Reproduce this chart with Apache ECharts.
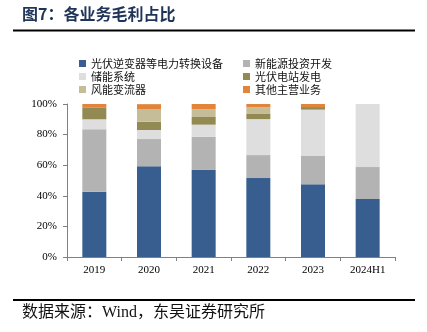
<!DOCTYPE html>
<html>
<head>
<meta charset="utf-8">
<script src="https://cdn.jsdelivr.net/npm/echarts@6/dist/echarts.min.js"></script>
<style>
  html, body { margin: 0; padding: 0; background: #fff; }
  #chart { width: 427px; height: 332px; }
</style>
</head>
<body>
<div id="chart"></div>
<script>
// Categories and gross-profit share (%) of each business line
const years = ['2019', '2020', '2021', '2022', '2023', '2024H1'];
const seriesNames = ['光伏逆变器等电力转换设备', '新能源投资开发', '储能系统', '光伏电站发电', '风能变流器', '其他主营业务'];
const converter = [42.7, 59.3, 56.9, 51.6, 47.5, 37.9];
const newEnergyDev = [40.8, 17.8, 21.6, 15.0, 18.5, 20.9];
const storage = [6.5, 5.9, 8.0, 23.5, 30.3, 41.2];
const pvStation = [7.8, 5.4, 5.0, 3.7, 1.7, 0];
const windConverter = [0, 8.0, 5.0, 4.1, 0, 0];
const other = [2.2, 3.5, 3.5, 2.1, 2.0, 0];
const yTicks = [0, 20, 40, 60, 80, 100];

const values = [converter, newEnergyDev, storage, pvStation, windConverter, other];
const colors = ['#375E8F', '#B3B3B3', '#DEDEDE', '#938953', '#C5BD97', '#E2853A'];

const serif = "'Liberation Serif', 'Noto Sans CJK SC', serif";
const cjk = "'Noto Sans CJK SC', sans-serif";

const chart = echarts.init(document.getElementById('chart'), null, { renderer: 'canvas' });

const legendText = { fontSize: 11, color: '#111', fontFamily: cjk, lineHeight: 13 };

chart.setOption({
  animation: false,
  backgroundColor: '#fff',
  graphic: [
    { type: 'text', left: 22, top: 6, style: { text: '图7：各业务毛利占比', fontSize: 16, fontWeight: 'bold', fill: '#1F3558', fontFamily: cjk } },
    { type: 'rect', shape: { x: 13, y: 29.5, width: 402, height: 2 }, style: { fill: '#000' } },
    { type: 'rect', shape: { x: 13, y: 299, width: 402, height: 2 }, style: { fill: '#000' } },
    { type: 'text', left: 22, top: 305, style: { text: '数据来源：Wind，东吴证券研究所', fontSize: 16, fill: '#111', fontFamily: serif } }
  ],
  legend: [
    {
      data: [seriesNames[0], seriesNames[2], seriesNames[4]],
      orient: 'vertical', left: 79, top: 57,
      itemWidth: 7, itemHeight: 7, itemGap: 0,
      icon: 'rect', textStyle: legendText, padding: 0
    },
    {
      data: [seriesNames[1], seriesNames[3], seriesNames[5]],
      orient: 'vertical', left: 243, top: 57,
      itemWidth: 7, itemHeight: 7, itemGap: 0,
      icon: 'rect', textStyle: legendText, padding: 0
    }
  ],
  grid: { left: 67, right: 32, top: 104, bottom: 75 },
  xAxis: {
    type: 'category',
    data: years,
    axisLine: { lineStyle: { color: '#808080', width: 1 } },
    axisTick: { show: true, length: 4, lineStyle: { color: '#808080' } },
    axisLabel: { fontSize: 11, color: '#000', fontFamily: serif, margin: 8 }
  },
  yAxis: {
    type: 'value',
    min: yTicks[0],
    max: yTicks[yTicks.length - 1],
    interval: yTicks[1] - yTicks[0],
    splitLine: { show: false },
    axisLine: { show: true, lineStyle: { color: '#808080', width: 1 } },
    axisTick: { show: true, length: 4, lineStyle: { color: '#808080' } },
    axisLabel: { fontSize: 11, color: '#000', fontFamily: serif, margin: 10, formatter: '{value}%' }
  },
  series: seriesNames.map((name, i) => ({
    name,
    type: 'bar',
    stack: 'share',
    barWidth: 24,
    data: values[i],
    itemStyle: { color: colors[i] }
  }))
});
</script>
</body>
</html>
